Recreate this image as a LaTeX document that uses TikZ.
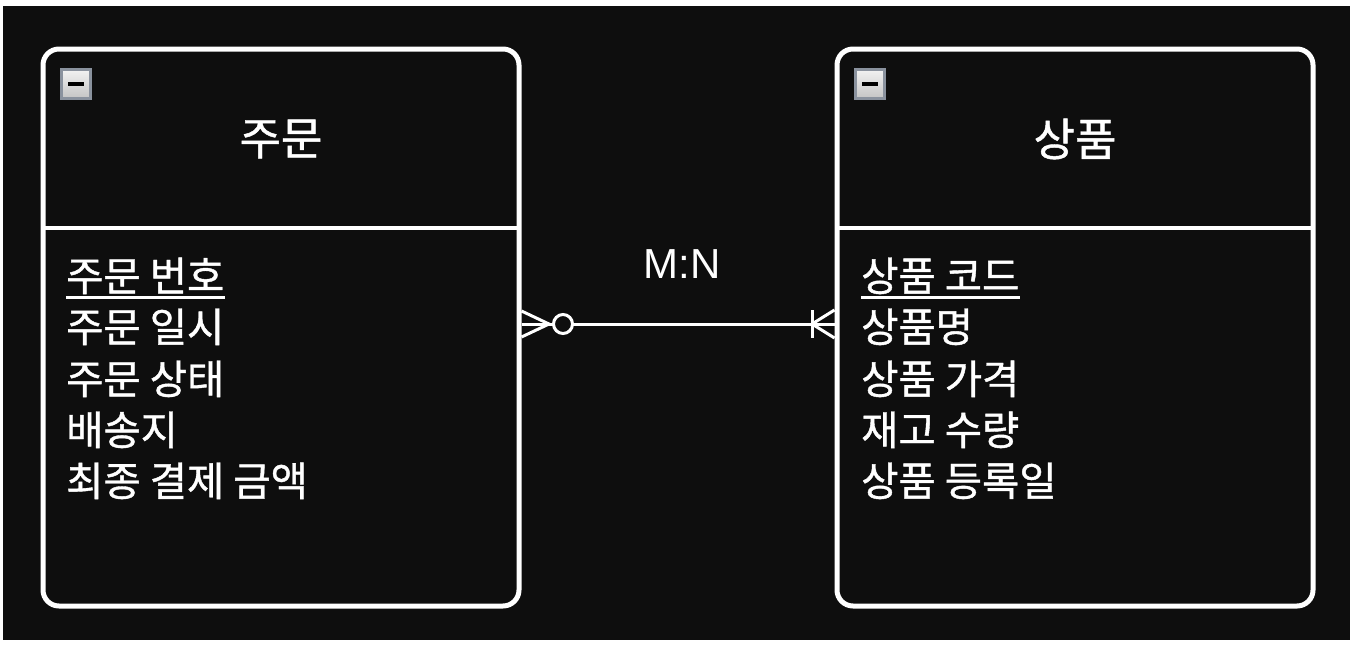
\documentclass[tikz,border=0pt]{standalone}
\usepackage{fontspec}
\setmainfont{Liberation Sans}
\newfontfamily\kr[FakeBold=1]{Noto Sans CJK KR}
\definecolor{bg}{HTML}{0E0E0E}
\definecolor{icoedge}{HTML}{8A929E}
\definecolor{icotop}{HTML}{F2F2F2}
\definecolor{icobot}{HTML}{C4C4C4}
\tikzset{
  entity/.style={draw=white, fill=bg, line width=5pt, rounded corners=16pt,
    minimum width=476pt, minimum height=557pt, inner sep=0pt},
  divider/.style={draw=white, line width=4pt},
  title/.style={text=white, font=\kr\fontsize{45}{52}\selectfont, inner sep=0pt},
  attr/.style={text=white, font=\kr\fontsize{40.5}{46}\selectfont, anchor=base west, inner sep=0pt},
  icon/.style={draw=icoedge, line width=3pt, top color=icotop, bottom color=icobot,
    minimum width=29pt, minimum height=29pt, inner sep=0pt},
  conn/.style={draw=white, line width=3pt},
  uline/.style={draw=white, line width=3pt},
  lbl/.style={text=white, font=\fontsize{42}{48}\selectfont, inner sep=0pt}
}
\begin{document}
\begin{tikzpicture}[x=1pt,y=-1pt]
\useasboundingbox (0,0) rectangle (1357,646);
\fill[white] (0,0) rectangle (1357,646);
\fill[bg] (3,6) rectangle (1350,640);

% entities
\node[entity] (e1) at (281,327.5) {};
\node[entity] (e2) at (1075,327.5) {};

% header dividers
\coordinate (d1) at (43,228);
\coordinate (d2) at (519,228);
\coordinate (d3) at (837,228);
\coordinate (d4) at (1313,228);
\draw[divider] (d1) -- (d2);
\draw[divider] (d3) -- (d4);

% collapse icons
\node[icon] (i1) at (76,84) {};
\node[icon] (i2) at (870,84) {};
\fill[black] ([xshift=-8pt,yshift=-2pt]i1.center) rectangle ([xshift=8pt,yshift=2pt]i1.center);
\fill[black] ([xshift=-8pt,yshift=-2pt]i2.center) rectangle ([xshift=8pt,yshift=2pt]i2.center);

% titles
\node[title] (t1) at (281,139) {주문};
\node[title] (t2) at (1075,139) {상품};

% attributes left
\node[attr] (a1) at (66,291) {주문 번호};
\node[attr] (a2) at (66,342) {주문 일시};
\node[attr] (a3) at (66,394) {주문 상태};
\node[attr] (a4) at (66,445) {배송지};
\node[attr] (a5) at (66,496) {최종 결제 금액};
\draw[uline] ([yshift=-6pt]a1.base west) -- ([yshift=-6pt]a1.base east);

% attributes right
\node[attr] (b1) at (861,291) {상품 코드};
\node[attr] (b2) at (861,342) {상품명};
\node[attr] (b3) at (861,394) {상품 가격};
\node[attr] (b4) at (861,445) {재고 수량};
\node[attr] (b5) at (861,496) {상품 등록일};
\draw[uline] ([yshift=-6pt]b1.base west) -- ([yshift=-6pt]b1.base east);

% relationship
\coordinate (l0) at (e1.east |- 0,324);
\coordinate (r0) at (e2.west |- 0,324);
\coordinate (lt) at (e1.east |- 0,311);
\coordinate (lb) at (e1.east |- 0,337);
\coordinate (lp) at (549,324);
\coordinate (rt) at (e2.west |- 0,310);
\coordinate (rb) at (e2.west |- 0,338);
\coordinate (rp) at (812,324);
\coordinate (rbt) at (812,310);
\coordinate (rbb) at (812,338);
\draw[conn] (l0) -- (r0);
\draw[conn] (lt) -- (lp) -- (lb);
\node[conn, circle, fill=bg, minimum size=19pt, inner sep=0pt] (c1) at (563,324) {};
\draw[conn] (rt) -- (rp) -- (rb);
\draw[conn] (rbt) -- (rbb);
\node[lbl] (m) at (682,264) {M:N};
\end{tikzpicture}
\end{document}
